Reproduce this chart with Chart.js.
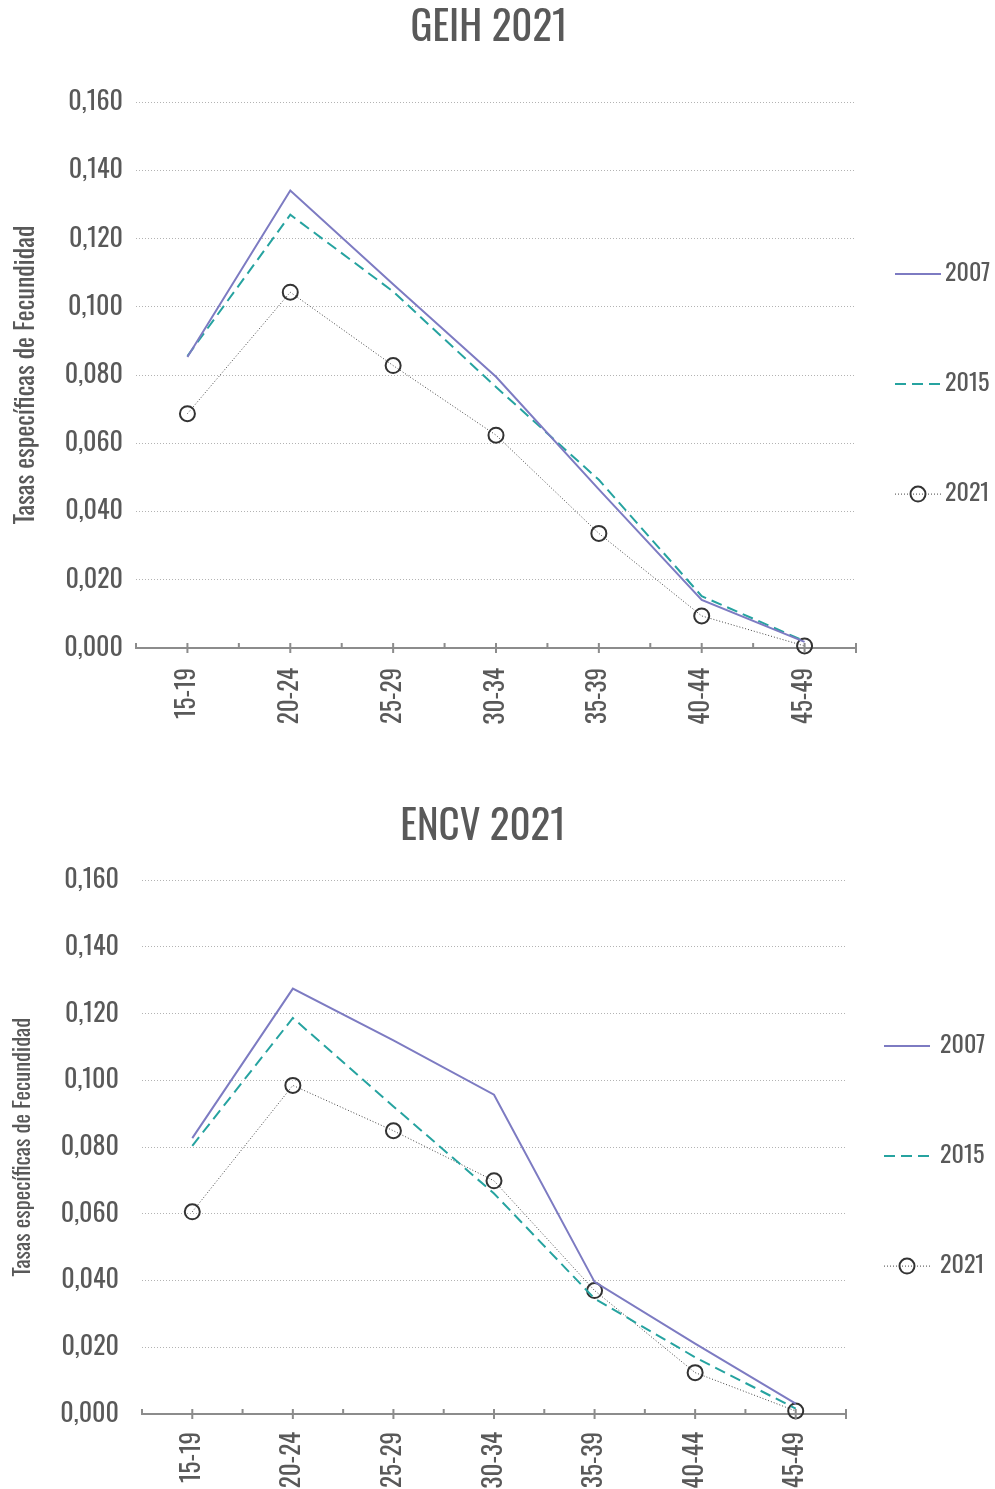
<!DOCTYPE html>
<html lang="es">
<head>
<meta charset="utf-8">
<title>Tasas específicas de fecundidad</title>
<script src="https://cdn.jsdelivr.net/npm/chart.js@4.4.1/dist/chart.umd.min.js"></script>
<style>
  html, body { margin: 0; padding: 0; background: #fff; }
  #g1 { position: absolute; left: 0; top: 0; }
  #g2 { position: absolute; left: 0; top: 770px; }
</style>
</head>
<body>
<canvas id="g1" width="995" height="740"></canvas>
<canvas id="g2" width="995" height="719"></canvas>
<script>
// ===============================
// DATOS
// ===============================
const grupos = ["15-19", "20-24", "25-29", "30-34", "35-39", "40-44", "45-49"];
const anios = ["2007", "2015", "2021"];

// GEIH 2021
const geih2007 = [0.0853, 0.1341, 0.1066, 0.0795, 0.0465, 0.0141, 0.0018];
const geih2015 = [0.0856, 0.1270, 0.1045, 0.0765, 0.0493, 0.0152, 0.0020];
const geih2021 = [0.0687, 0.1043, 0.0828, 0.0624, 0.0336, 0.0094, 0.0006];

// ENCV 2021
const encv2007 = [0.0827, 0.1275, 0.1120, 0.0957, 0.0396, 0.0211, 0.0031];
const encv2015 = [0.0804, 0.1187, 0.0922, 0.0661, 0.0346, 0.0170, 0.0016];
const encv2021 = [0.0606, 0.0985, 0.0849, 0.0699, 0.0370, 0.0124, 0.0009];

const ticksY = [0, 0.02, 0.04, 0.06, 0.08, 0.10, 0.12, 0.14, 0.16];

// ===============================
// ESTILO
// ===============================
const fuente = "Oswald, 'Open Sans Condensed', 'DejaVu Sans Condensed', sans-serif";
const peso = 400;
const gris = "#595959";
const colorEje = "#8c8c8c";

function series(v07, v15, v21) {
  return [
    { label: anios[0], data: v07, borderColor: "#7d7bc2", borderWidth: 2, pointRadius: 0, tension: 0, clip: false },
    { label: anios[1], data: v15, borderColor: "#26a3a0", borderWidth: 2, borderDash: [11, 6], pointRadius: 0, tension: 0, clip: false },
    { label: anios[2], data: v21, borderColor: "#444", borderWidth: 1, borderDash: [1, 2], pointRadius: 7.5,
      pointBorderWidth: 2, pointBorderColor: "#333", pointBackgroundColor: "rgba(0,0,0,0)", tension: 0, clip: false }
  ];
}

// marcas del eje X: en el centro de cada grupo y en los bordes
const marcasEje = {
  id: "marcasEje",
  afterDraw(chart) {
    const x = chart.scales.x;
    const ctx = chart.ctx;
    const yEje = chart.scales.y.getPixelForValue(0);
    ctx.save();
    ctx.strokeStyle = colorEje;
    ctx.lineWidth = 2;
    ctx.beginPath();
    for (let i = 0; i < grupos.length; i++) {
      const px = x.getPixelForValue(i);
      ctx.moveTo(px, yEje - 5);
      ctx.lineTo(px, yEje + 5);
    }
    for (let i = 0; i <= grupos.length; i++) {
      const px = x.getPixelForValue(i - 0.5);
      ctx.moveTo(px, yEje - 5);
      ctx.lineTo(px, i === grupos.length ? yEje + 5 : yEje);
    }
    ctx.stroke();
    ctx.restore();
  }
};

// leyenda a la derecha
const leyenda = {
  id: "leyenda",
  afterDraw(chart, args, opts) {
    const ctx = chart.ctx;
    const area = chart.chartArea;
    const mid = (area.top + area.bottom) / 2;
    chart.data.datasets.forEach((ds, i) => {
      const y = mid + 9 + (i - 1) * opts.paso;
      const x0 = area.right + opts.linea;
      const x1 = x0 + 46;
      ctx.save();
      ctx.strokeStyle = ds.borderColor;
      ctx.lineWidth = ds.borderWidth;
      ctx.setLineDash(ds.borderDash || []);
      ctx.beginPath();
      ctx.moveTo(x0, y);
      ctx.lineTo(x1, y);
      ctx.stroke();
      if (ds.pointRadius > 0) {
        ctx.setLineDash([]);
        ctx.lineWidth = ds.pointBorderWidth;
        ctx.strokeStyle = ds.pointBorderColor;
        ctx.beginPath();
        ctx.arc((x0 + x1) / 2, y, ds.pointRadius, 0, Math.PI * 2);
        ctx.stroke();
      }
      ctx.fillStyle = gris;
      ctx.font = peso + " 24px " + fuente;
      ctx.textBaseline = "middle";
      ctx.textAlign = "left";
      ctx.fillText(ds.label, area.right + opts.texto, y);
      ctx.restore();
    });
  }
};

function crearGrafica(id, titulo, datos, cfg) {
  return new Chart(document.getElementById(id), {
    type: "line",
    data: { labels: grupos, datasets: datos },
    plugins: [marcasEje, leyenda],
    options: {
      responsive: false,
      animation: false,
      layout: { padding: { left: 0, right: cfg.padDer, top: 0, bottom: cfg.padAbajo } },
      plugins: {
        legend: { display: false },
        tooltip: { enabled: false },
        title: {
          display: true,
          text: titulo,
          color: gris,
          font: { family: fuente, size: 41, weight: peso },
          padding: { top: cfg.tituloArriba, bottom: cfg.tituloAbajo }
        },
        leyenda: { paso: 110, linea: cfg.leyLinea, texto: cfg.leyTexto }
      },
      scales: {
        x: {
          offset: true,
          grid: { display: false, drawTicks: false },
          border: { display: true, color: colorEje, width: 2 },
          ticks: {
            color: gris,
            font: { family: fuente, size: 25, weight: peso },
            minRotation: 90,
            maxRotation: 90,
            padding: cfg.padTicksX
          },
          afterFit: s => { s.height = cfg.altoX; }
        },
        y: {
          min: 0,
          max: 0.16,
          afterBuildTicks: s => { s.ticks = ticksY.map(v => ({ value: v })); },
          grid: { color: "#b3b3b3", lineWidth: 1, drawTicks: false },
          border: { display: false, dash: [1, 2] },
          ticks: {
            color: gris,
            padding: cfg.padTicksY,
            font: { family: fuente, size: 26, weight: peso },
            callback: v => v.toFixed(3).replace(".", ",")
          },
          title: {
            display: true,
            text: "Tasas específicas de Fecundidad",
            color: gris,
            font: { family: fuente, size: cfg.tituloY, weight: peso },
            padding: { top: cfg.tituloYPad, bottom: 0 }
          },
          afterFit: s => { s.width = cfg.anchoY; }
        },
        der: {
          type: "linear",
          position: "right",
          display: true,
          grid: { display: false },
          border: { display: false },
          ticks: { display: false },
          afterFit: s => { s.width = cfg.anchoDer; }
        }
      }
    }
  });
}

crearGrafica("g1", "GEIH 2021", series(geih2007, geih2015, geih2021), {
  padDer: 17, padAbajo: 4, altoX: 88, anchoY: 136, anchoDer: 122, padTicksY: 13, padTicksX: 20,
  tituloArriba: 4, tituloAbajo: 49, tituloY: 26, tituloYPad: 10,
  leyLinea: 39, leyTexto: 89
});

crearGrafica("g2", "ENCV 2021", series(encv2007, encv2015, encv2021), {
  padDer: 29, padAbajo: 0, altoX: 75, anchoY: 142, anchoDer: 120, padTicksY: 23, padTicksX: 18,
  tituloArriba: 33, tituloAbajo: 28, tituloY: 22.5, tituloYPad: 9.5,
  leyLinea: 38, leyTexto: 94
});
</script>
</body>
</html>
